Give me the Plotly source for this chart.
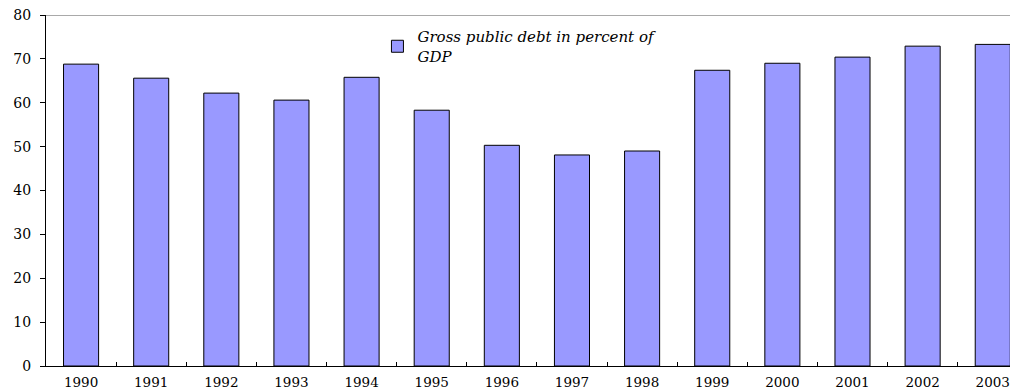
import plotly.graph_objects as go

years = ["1990", "1991", "1992", "1993", "1994", "1995", "1996", "1997", "1998",
         "1999", "2000", "2001", "2002", "2003"]
debt = [68.8, 65.6, 62.2, 60.6, 65.8, 58.3, 50.3, 48.1, 49.0, 67.4, 69.0, 70.4, 72.9, 73.3]
series_name = "Gross public debt in percent of<br>GDP"

fig = go.Figure()
fig.add_trace(go.Bar(
    x=years, y=debt, name=series_name,
    marker=dict(color="#9999FF", line=dict(color="#000000", width=1)),
    showlegend=True,
))

serif = "DejaVu Serif, serif"
# page body has an 8px margin, so the figure is sized/offset to compensate
fig.update_layout(
    width=1010, height=384,
    margin=dict(l=38, r=0, t=7, b=26),
    paper_bgcolor="white", plot_bgcolor="white",
    bargap=0.5,
    showlegend=True,
    legend=dict(x=0.341, y=0.985, xanchor="left", yanchor="top",
                font=dict(family=serif, size=15, color="black", style="italic"),
                bgcolor="rgba(0,0,0,0)", itemwidth=30, tracegroupgap=0),
    xaxis=dict(type="category", range=[-0.5, 13.36], automargin=False,
               showline=True, linecolor="black", linewidth=1,
               ticks="inside", tickson="boundaries", ticklen=4, tickcolor="black",
               ticklabelstandoff=4,
               tickfont=dict(family=serif, size=13.5, color="black"),
               showgrid=False, zeroline=False),
    yaxis=dict(range=[0, 80], dtick=10, automargin=False,
               ticklabeloverflow="allow",
               showline=True, linecolor="black", linewidth=1,
               ticks="outside", ticklen=5, tickcolor="black",
               ticklabelstandoff=6,
               tickfont=dict(family=serif, size=14, color="black"),
               showgrid=False, zeroline=False),
)
fig.add_shape(type="line", xref="paper", yref="y", x0=0, x1=1, y0=80, y1=80,
              line=dict(color="#555555", width=1))
fig.write_html("out.html")
